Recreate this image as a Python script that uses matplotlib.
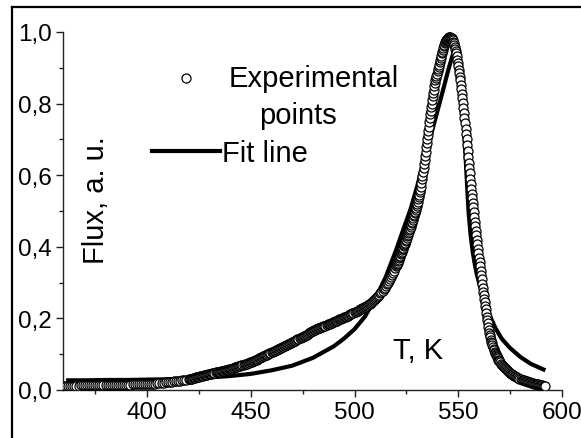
import numpy as np
import matplotlib
matplotlib.use("Agg")
import matplotlib.pyplot as plt
from matplotlib.lines import Line2D
from matplotlib.ticker import MultipleLocator, FuncFormatter

plt.rcParams['font.family'] = ['Liberation Sans', 'DejaVu Sans']

# ---------------- data ----------------
# Experimental points: temperature grid (K), sampled more finely where the curve is steep
exp_T_a = np.arange(360, 420, 1.0)      # 60 points
exp_T_b = np.arange(420, 520, 0.5)      # 200 points
exp_T_c = np.arange(520, 570, 0.25)     # 200 points
exp_T_d = np.arange(570, 592.5, 0.5)    # 45 points

exp_flux_a = [
    .012, .012, .012, .012, .012, .012, .012, .012, .013, .013,
    .013, .013, .013, .013, .013, .013, .014, .014, .014, .014,
    .014, .014, .014, .014, .014, .015, .015, .015, .015, .015,
    .015, .015, .015, .016, .016, .016, .016, .016, .016, .016,
    .016, .017, .017, .018, .018, .019, .019, .020, .020, .021,
    .022, .022, .023, .024, .025, .026, .026, .027, .028, .029,
]
exp_flux_b = [
    .030, .031, .031, .032, .033, .034, .034, .035, .036, .037, .037, .038, .039, .040, .040, .041, .042, .043, .043, .044,
    .045, .046, .046, .047, .047, .048, .049, .050, .050, .051, .051, .052, .053, .054, .054, .055, .056, .057, .057, .058,
    .058, .059, .060, .061, .062, .063, .064, .065, .066, .067, .068, .069, .070, .071, .072, .073, .074, .075, .076, .077,
    .077, .079, .080, .082, .083, .084, .085, .087, .088, .090, .091, .093, .094, .096, .097, .098, .099, .101, .102, .104,
    .105, .107, .108, .110, .111, .113, .114, .115, .116, .118, .119, .121, .122, .124, .125, .127, .128, .129, .130, .132,
    .133, .135, .136, .138, .140, .142, .143, .145, .146, .148, .149, .151, .152, .154, .155, .157, .159, .161, .162, .164,
    .165, .167, .168, .169, .170, .172, .173, .174, .175, .177, .178, .179, .180, .182, .183, .184, .185, .187, .188, .189,
    .190, .192, .193, .194, .195, .197, .198, .199, .200, .202, .203, .204, .205, .207, .208, .210, .211, .213, .214, .216,
    .217, .219, .220, .222, .223, .225, .226, .228, .229, .231, .232, .234, .236, .238, .239, .241, .243, .246, .248, .251,
    .253, .256, .259, .263, .266, .270, .273, .277, .281, .286, .290, .295, .300, .305, .310, .316, .321, .327, .333, .340,
]
exp_flux_c = [
    .346, .350, .353, .356, .360, .364, .368, .371, .375, .379, .383, .386, .390, .394, .398, .401, .405, .408, .412, .416,
    .420, .424, .429, .433, .438, .442, .447, .451, .456, .461, .466, .470, .475, .480, .485, .489, .494, .498, .503, .508,
    .513, .519, .526, .533, .540, .546, .553, .559, .566, .577, .588, .599, .610, .621, .632, .643, .655, .666, .678, .689,
    .700, .712, .724, .736, .748, .759, .770, .780, .790, .800, .810, .820, .830, .839, .848, .857, .865, .872, .878, .884,
    .890, .897, .903, .909, .915, .922, .928, .934, .940, .945, .950, .955, .960, .964, .968, .972, .975, .977, .979, .981,
    .983, .984, .985, .985, .985, .984, .983, .982, .980, .977, .973, .969, .965, .959, .953, .947, .940, .932, .923, .914,
    .905, .895, .885, .875, .865, .853, .840, .828, .815, .802, .788, .774, .760, .745, .730, .715, .700, .684, .668, .652,
    .635, .620, .605, .590, .575, .562, .548, .535, .522, .510, .497, .484, .470, .458, .445, .432, .420, .408, .395, .383,
    .370, .358, .345, .333, .320, .309, .297, .286, .275, .265, .255, .245, .235, .225, .215, .205, .195, .186, .177, .168,
    .160, .153, .147, .141, .135, .130, .125, .120, .115, .111, .107, .103, .100, .097, .094, .091, .088, .085, .083, .080,
]
exp_flux_d = [
    .078, .074, .070, .067, .064, .061, .058, .056, .053, .051,
    .048, .046, .044, .042, .040, .038, .036, .035, .033, .032,
    .030, .029, .028, .027, .026, .025, .024, .023, .022, .021,
    .020, .020, .019, .018, .017, .017, .016, .016, .015, .015,
    .014, .013, .012, .012, .011,
]

# Fit line
fit_T = [361, 370, 380, 390, 400, 410, 420, 430, 440, 450, 460, 470, 480,
         490, 495, 500, 505, 510, 515, 520, 523, 527, 530, 535, 540, 543,
         545, 546, 547, 548, 548.5, 549, 549.5, 550, 550.5, 551, 551.5, 552,
         552.5, 553, 553.5, 554, 554.5, 555, 556, 557, 558, 559, 560, 562,
         565, 568, 571, 575, 580, 585, 590, 592]
fit_flux = [.027, .027, .028, .028, .029, .030, .032, .035, .039, .045, .055,
            .068, .090, .122, .144, .170, .205, .255, .315, .390, .440, .505,
            .565, .673, .780, .845, .890, .910, .930, .948, .955, .952, .943,
            .928, .905, .875, .840, .800, .755, .705, .655, .600, .545, .495,
            .430, .385, .350, .322, .300, .262, .210, .172, .143, .117, .092,
            .073, .060, .055]

x_ticks = [400, 450, 500, 550, 600]
y_ticks = [0.0, 0.2, 0.4, 0.6, 0.8, 1.0]

exp_T = np.concatenate([exp_T_a, exp_T_b, exp_T_c, exp_T_d])
exp_flux = np.array(exp_flux_a + exp_flux_b + exp_flux_c + exp_flux_d)

# ---------------- figure ----------------
W, H = 581, 439
fig = plt.figure(figsize=(W / 100, H / 100), dpi=100)
ax = fig.add_axes([63 / W, 1 - 391 / H, (562 - 63) / W, (391 - 33) / H])

ax.plot(exp_T, exp_flux, linestyle='none', marker='o', ms=6.5,
        mfc='white', mec='black', mew=0.9, zorder=3)
ax.plot(fit_T, fit_flux, color='black', lw=3.0, solid_capstyle='butt', zorder=2)

ax.set_xlim(359.5, 600)
ax.set_ylim(0, 1.0)
ax.set_xticks(x_ticks)
ax.set_yticks(y_ticks)
ax.xaxis.set_minor_locator(MultipleLocator(25))
ax.yaxis.set_minor_locator(MultipleLocator(0.1))
ax.yaxis.set_major_formatter(FuncFormatter(lambda v, p: f"{v:.1f}".replace('.', ',')))
ax.xaxis.set_major_formatter(FuncFormatter(lambda v, p: f"{v:.0f}"))

for s in ['top', 'right']:
    ax.spines[s].set_visible(False)
for s in ['left', 'bottom']:
    ax.spines[s].set_linewidth(1.0)
    ax.spines[s].set_color('#222222')
ax.tick_params(which='major', direction='out', length=5, width=1.0,
               labelsize=17.5, pad=3, color='#222222')
ax.tick_params(which='minor', direction='out', length=3, width=1.0, color='#222222')
ax.set_facecolor('none')

def fx(px):
    return px / W

def fy(py):
    return 1 - py / H

# axis labels placed inside the plot area
fig.text(fx(393), fy(359), 'T, K', fontsize=21, ha='left', va='baseline')
fig.text(fx(96), fy(200), 'Flux, a. u.', fontsize=21, rotation=90,
         ha='center', va='center')

# legend-like annotations
fig.add_artist(Line2D([fx(186)], [fy(79)], linestyle='none', marker='o', ms=6.5,
                      mfc='white', mec='black', mew=0.9))
fig.text(fx(229), fy(87), 'Experimental', fontsize=21, ha='left', va='baseline')
fig.text(fx(298), fy(124), 'points', fontsize=21, ha='center', va='baseline')
fig.add_artist(Line2D([fx(152), fx(220)], [fy(152), fy(152)], color='black', lw=3.0))
fig.text(fx(222), fy(162), 'Fit line', fontsize=21, ha='left', va='baseline')

# frame lines (left and top borders)
fig.add_artist(Line2D([fx(12), fx(12)], [0, fy(7.5)], color='black', lw=1.6))
fig.add_artist(Line2D([fx(12), 1], [fy(7.5), fy(7.5)], color='black', lw=1.6))

fig.savefig('out.png', dpi=100)
